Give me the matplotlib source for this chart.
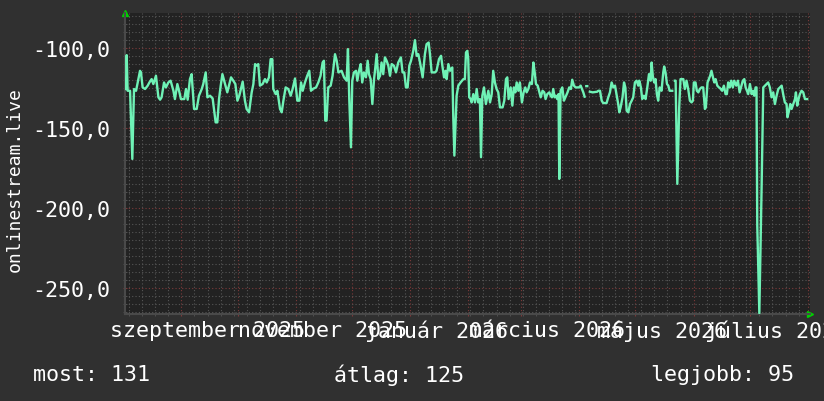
import numpy as np
import matplotlib
matplotlib.use("Agg")
import matplotlib.pyplot as plt
import matplotlib.dates as mdates
import matplotlib.transforms as mtransforms
from matplotlib.ticker import MultipleLocator, FuncFormatter, NullFormatter

nan = np.nan

# ---------------- data ----------------
start_date = "2025-08-02"
end_date = "2026-08-02"

# days since start_date
day = [
    0.5, 0.9, 1.4, 2.7, 3.9, 4.8, 5.9, 8.0, 8.5, 9.4, 10.7, 12.1, 13.0, 14.2, 15.1, 16.5,
    17.8, 18.7, 19.5, 20.8, 21.8, 23.1, 24.3, 25.8, 26.6, 27.9, 29.0, 29.8, 31.6, 32.5,
    33.4, 34.6, 35.5, 36.8, 38.2, 39.4, 40.9, 41.7, 43.0, 43.9, 45.3, 46.7, 48.3, 49.2,
    50.1, 51.0, 51.9, 53.3, 54.5, 55.4, 56.5, 57.7, 58.8, 59.9, 60.9, 62.7, 63.9, 64.8,
    66.1, 67.5, 68.4, 69.3, 70.2, 71.0, 71.9, 73.3, 74.6, 75.5, 76.7, 77.6, 78.5, 79.0,
    80.3, 81.2, 82.6, 83.5, 84.4, 85.6, 87.0, 88.3, 89.3, 90.6,
    91.8, 92.9, 93.8, 94.7, 95.9, 97.1, 98.2, 99.1, 100.0, 101.8, 103.0, 104.2, 105.3,
    106.0, 106.7, 107.4, 108.3, 109.6, 110.6, 111.9, 112.8, 113.7, 115.4, 116.7, 118.1,
    118.8, 119.5, 120.4, 121.1, 122.0, 123.1, 123.8, 124.7, 125.6, 126.4, 127.3, 128.4,
    129.3, 130.0, 130.9, 131.8, 132.7, 133.2, 134.1, 135.0, 135.9, 136.7, 137.6, 138.5,
    139.4, 140.3, 141.2, 142.1, 143.3, 144.4, 145.6, 147.0, 147.9, 148.8, 149.7, 150.6,
    151.5, 152.4, 153.6, 154.5, 155.4, 156.3, 157.2, 158.6, 159.8, 160.7, 161.8, 162.5,
    163.4, 165.2, 166.0, 167.3, 168.4, 169.1, 170.0, 170.8, 171.4, 172.3, 173.2, 173.7,
    174.4, 174.9, 175.5, 176.2, 176.7, 177.6, 178.8, 180.3,
    181.1, 181.7, 182.4, 182.9, 183.4, 184.2, 184.7, 185.6, 186.5, 187.4, 188.2, 189.1,
    189.7, 190.4, 191.3, 192.3, 193.6, 194.5, 195.4, 196.2, 197.1, 198.0, 198.9, 199.8,
    201.2, 202.1, 203.0, 203.7, 204.4, 205.5, 206.4, 207.2, 208.0, 208.7, 209.6, 210.4,
    211.5, 212.4, 213.3, 214.0, 214.9, 215.8, 216.8, 217.6, 218.3, 219.0, 219.9, 220.6,
    221.5, 222.5, 223.4, 224.1, 225.0, 226.1, 226.8, 227.5, 228.2, 228.9, 229.6, 230.3,
    231.0, 231.4, 232.1, 233.0, 233.9, 235.0, 235.8, 236.7, 237.6, 238.3, 239.2, 240.1,
    241.0, 241.9, 242.8, 243.5, 244.2, 244.9, 245.4, 245.8, 246.3, 246.9, 247.7, 249.2,
    251.6, 252.2, 253.1, 254.0, 254.8, 256.6, 257.5, 258.4, 259.3, 260.2, 261.1, 262.0,
    262.8, 263.4, 264.1, 265.1, 265.9, 266.6, 267.3, 268.2, 269.1, 270.0, 270.8, 271.7,
    272.6, 273.5, 274.0, 274.9, 275.6, 276.5, 277.4, 278.3, 279.2, 280.1, 280.6, 281.3,
    282.0, 282.7, 283.4, 284.1, 284.9, 285.9, 286.8, 287.3, 288.0, 288.8, 289.5, 290.2,
    291.6, 292.3, 293.0, 293.4, 294.3, 295.3, 296.0, 297.5, 298.3, 299.2, 300.1, 301.0,
    301.9, 302.6, 303.1, 304.0, 304.7, 305.5, 306.3, 307.2, 308.1, 309.0, 309.5, 310.4,
    311.1, 311.8, 312.5, 313.3, 314.0, 314.7, 315.6, 316.5, 317.5, 318.2, 319.1, 320.0,
    320.7, 321.4, 322.3, 323.0, 323.9, 324.6, 325.7, 326.6, 327.5, 328.2, 329.2, 330.0,
    330.7, 331.4, 332.1, 333.0, 333.9, 334.6, 335.3, 336.0, 336.5, 336.9, 338.0, 339.2,
    340.1, 341.0, 341.9, 342.7, 343.6, 344.5, 345.4, 346.3, 347.2, 348.1, 349.0, 349.9,
    350.7, 351.6, 352.5, 353.0, 353.8, 354.5, 355.2, 356.1, 357.0, 357.5, 358.2, 358.7,
    359.6, 360.5, 361.4, 362.3, 363.5,
]

value = [
    -125.6, -104.4, -126.7, -126.7, -169.4, -125.6, -126.7, -114.2, -115.2, -124.6, -125.6,
    -123.5, -121.5, -119.4, -122.5, -117.3, -130.8, -132.3, -130.8, -121.5, -124.6, -121.5,
    -120.4, -126.7, -131.9, -122.5, -127.7, -131.9, -131.9, -125.6, -132.3, -119.4, -116.3,
    -138.1, -138.1, -129.8, -125.6, -122.5, -115.2, -130.8, -129.8, -131.5, -146.5, -146.5,
    -131.9, -123.5, -116.3, -122.5, -127.7, -123.5, -118.3, -120.4, -122.5, -132.9, -129.8,
    -121.0, -132.9, -138.1, -140.2, -127.7, -122.5, -110.0, -111.0, -110.0, -123.5, -122.5,
    -119.4, -121.5, -118.3, -106.9, -106.9, -125.6, -128.8, -126.7, -138.1, -140.2, -132.9,
    -124.6, -125.6, -129.8, -125.6, -119.0,
    -132.9, -132.9, -121.5, -126.7, -121.5, -117.3, -114.2, -126.7, -125.6, -124.6, -121.5,
    -117.3, -109.0, -107.9, -145.4, -145.4, -124.6, -123.5, -117.3, -103.8, -107.9, -115.2,
    -114.2, -118.3, -120.4, -100.6, -131.9, -162.1, -120.4, -115.2, -114.2, -120.4, -114.2,
    -110.0, -121.5, -115.2, -118.3, -107.9, -116.3, -119.4, -135.0, -119.4, -114.2, -103.8,
    -119.4, -117.3, -109.0, -116.3, -105.8, -107.9, -111.0, -117.3, -110.0, -111.0, -115.2,
    -109.0, -105.8, -115.2, -115.2, -124.6, -124.6, -111.0, -107.9, -101.7, -95.0, -104.8,
    -103.8, -109.0, -118.3, -103.8, -97.5, -96.5, -103.8, -115.2, -115.2, -114.2, -106.9,
    -104.8, -111.0, -118.3, -114.2, -119.4, -110.0, -114.2, -113.1, -112.1, -142.3, -167.3,
    -144.4, -129.8, -123.5, -121.5, -119.4,
    -119.4, -102.7, -101.7, -106.9, -130.8, -131.9, -134.0, -128.8, -134.0, -125.6, -134.0,
    -131.9, -168.3, -129.8, -124.6, -135.0, -126.7, -134.0, -128.8, -114.2, -121.5, -125.6,
    -127.7, -137.1, -137.1, -132.9, -119.4, -118.3, -131.9, -124.6, -136.0, -124.6, -127.7,
    -121.5, -126.7, -121.5, -134.0, -127.7, -124.6, -127.7, -125.6, -121.5, -122.5, -109.0,
    -115.2, -122.5, -123.5, -126.7, -130.8, -126.7, -127.7, -131.9, -128.8, -127.7, -129.8,
    -130.8, -125.6, -130.8, -129.8, -131.9, -128.8, -181.9, -126.7, -124.6, -132.9, -129.8,
    -127.7, -124.6, -125.6, -119.8, -123.5, -124.6, -124.6, -124.6, -123.5, -125.6, -127.7,
    -130.4, nan, -123.8, -123.8, nan, -127.3, -127.7, -127.3, -126.7, -126.7, -132.9, -134.4,
    -134.4, -130.8, -127.7, -121.5, -124.6, -123.5, -129.8, -135.0, -140.2, -137.1, -130.8,
    -121.5, -124.6, -139.2, -140.2, -135.0, -132.9, -130.8, -121.5, -120.4,
    -123.5, -120.4, -124.6, -131.9, -129.8, -131.9, -124.6, -116.3, -120.4, -109.0, -118.3,
    -121.5, -119.4, -128.8, -132.9, -124.6, -126.7, -115.2, -111.5, -115.2, -122.5, -123.5,
    -126.7, -126.7, nan, -120.4, -120.4, -185.0, -137.1, -119.4, -119.4, -125.6, -120.4,
    -125.6, -132.9, -134.0, -132.9, -121.5, -121.5, -126.7, -127.7, -125.6, -124.6, -124.6,
    -138.1, -137.1, -121.5, -119.4, -117.3, -114.2, -118.3, -121.5, -119.4, -123.5, -124.6,
    -125.6, -126.7, -123.5, -128.8, -128.8, -121.5, -124.6, -120.4, -124.6, -120.4, -123.5,
    -120.4, -127.7, -124.6, -120.4, -119.4, -124.6, -126.7, -128.8, -122.5, -128.8, -126.7,
    -129.8, -124.6, -124.6, -211.0, -266.0, -188.0, -124.6, -123.5, -122.5, -121.5, -124.6,
    -130.8, -127.7, -135.0, -129.8, -125.6, -124.6, -123.5, -128.8, -134.0, -135.0, -143.3,
    -139.2, -135.0, -138.1, -135.0, -131.9, -127.7, -136.0, -132.9, -128.8, -126.7, -127.7,
    -131.9, -131.9,
]

label_texts = ["szeptember 2025", "november 2025", "január 2026",
               "március 2026", "május 2026", "július 2026"]
label_dates = ["2025-09-16", "2025-11-16", "2026-01-16",
               "2026-03-16", "2026-05-16", "2026-07-16"]
y_label = "onlinestream.live"
stat_texts = ["most: 131", "átlag: 125", "legjobb: 95"]

# ---------------- style ----------------
BG = "#303030"
CANVAS = "#222222"
LINE = "#6ff2b6"
MINOR = "#565656"
MAJOR = "#7c3a3a"
MONO = "DejaVu Sans Mono"
FS = 15.6

W, H = 824, 402
fig = plt.figure(figsize=(W / 100, H / 100), dpi=100, facecolor=BG)
L, R, T, B = 125, 810, 14, 315
ax = fig.add_axes([L / W, 1 - B / H, (R - L) / W, (B - T) / H])
ax.set_facecolor(CANVAS)

t0 = mdates.date2num(np.datetime64(start_date))
t1 = mdates.date2num(np.datetime64(end_date))
x = t0 + np.array(day, dtype=float)
y = np.array(value, dtype=float)
ax.plot(x, y, color=LINE, lw=1.7, solid_joinstyle="round", zorder=3)

ax.set_xlim(t0, t1)
ax.set_ylim(-266.5, -78)

ax.xaxis.set_major_locator(mdates.MonthLocator())
ax.xaxis.set_minor_locator(mdates.WeekdayLocator(byweekday=mdates.MO))
ax.xaxis.set_major_formatter(NullFormatter())
ax.yaxis.set_major_locator(MultipleLocator(50))
ax.yaxis.set_minor_locator(MultipleLocator(5))
ax.yaxis.set_major_formatter(FuncFormatter(lambda v, p: f"{v:.1f}".replace(".", ",")))

ax.grid(which="minor", color=MINOR, ls=(0, (1, 2)), lw=0.8)
ax.grid(which="major", color=MAJOR, ls=(0, (1, 2)), lw=0.8)
ax.set_axisbelow(True)

ax.tick_params(axis="x", which="both", length=3, direction="inout", color=MINOR)
ax.tick_params(axis="x", which="major", color=MAJOR)
ax.tick_params(axis="y", which="both", length=3, direction="inout", color=MINOR)
ax.tick_params(axis="y", which="major", color=MAJOR, labelsize=FS, labelcolor="white", pad=9)
for lab in ax.get_yticklabels():
    lab.set_family(MONO)

for s in ["top", "right"]:
    ax.spines[s].set_visible(False)
for s in ["left", "bottom"]:
    ax.spines[s].set_color("#4a4a4a")
    ax.spines[s].set_linewidth(1.5)

# axis arrows
ax.plot([0], [1.0], marker="^", color="#00d000", ms=5, transform=ax.transAxes, clip_on=False)
ax.plot([1.0], [0], marker=">", color="#00d000", ms=5, transform=ax.transAxes, clip_on=False)

# x labels
trans = mtransforms.blended_transform_factory(ax.transData, fig.transFigure)
for txt, d in zip(label_texts, label_dates):
    ax.text(mdates.date2num(np.datetime64(d)) - 1, 1 - 331 / H, txt, transform=trans,
            ha="center", va="center", fontsize=FS, family=MONO, color="white", clip_on=False)

fig.text(15 / W, 1 - 180 / H, y_label, rotation=90, ha="center", va="center",
         fontsize=13, family=MONO, color="white")

stat_x = [33, 334, 651]
for sx, txt in zip(stat_x, stat_texts):
    fig.text(sx / W, 1 - 375 / H, txt, ha="left", va="center", fontsize=FS,
             family=MONO, color="white")

fig.savefig("out.png", dpi=100, facecolor=BG)
